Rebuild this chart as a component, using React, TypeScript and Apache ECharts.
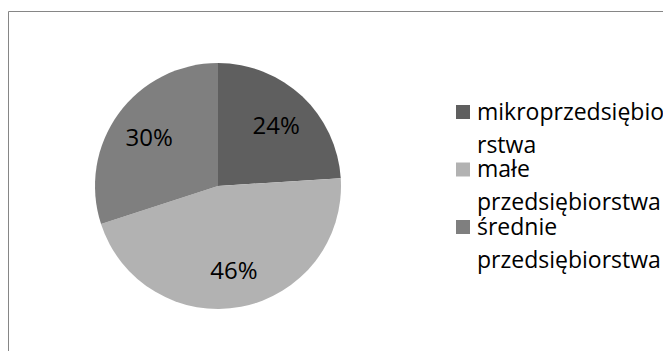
import React, { useEffect, useRef } from "react";
import * as echarts from "echarts";

const categories = ["mikroprzedsiębiorstwa", "małe przedsiębiorstwa", "średnie przedsiębiorstwa"];
const legendLabels = ["mikroprzedsiębio\nrstwa", "małe\nprzedsiębiorstwa", "średnie\nprzedsiębiorstwa"];
const shares = [24, 46, 30];
const colors = ["#5f5f5f", "#b2b2b2", "#7f7f7f"];

const FONT = "'Open Sans', 'Noto Sans', sans-serif";

export default function App() {
  const ref = useRef<HTMLDivElement>(null);
  useEffect(() => {
    if (!ref.current) return;
    const chart = echarts.init(ref.current, undefined, { renderer: "svg" });
    const data = categories.map((name, i) => ({ name, value: shares[i], itemStyle: { color: colors[i] } }));
    chart.setOption({
      animation: false,
      backgroundColor: "#ffffff",
      graphic: [
        {
          type: "rect",
          shape: { x: 8.5, y: 11.5, width: 720, height: 420 },
          style: { fill: "none", stroke: "#868686", lineWidth: 1 },
          silent: true,
        },
      ],
      legend: {
        orient: "vertical",
        left: 456,
        top: 94,
        padding: 0,
        itemWidth: 14,
        itemHeight: 66,
        itemGap: -8.5,
        icon: "path://M0,0L0,0M0,11h14v14h-14zM14,66L14,66",
        itemStyle: { borderWidth: 0 },
        selectedMode: false,
        data: categories,
        formatter: (name: string) => legendLabels[categories.indexOf(name)],
        textStyle: { fontFamily: FONT, fontSize: 23, lineHeight: 33, color: "#000000", padding: [0, 0, 0, 2] },
      },
      series: [
        {
          type: "pie",
          center: [218, 186],
          radius: 123,
          startAngle: 90,
          clockwise: true,
          label: { show: false },
          labelLine: { show: false },
          itemStyle: { borderWidth: 0 },
          emphasis: { disabled: true },
          data,
        },
        {
          type: "pie",
          center: [218, 186],
          radius: [41, 123],
          startAngle: 90,
          clockwise: true,
          silent: true,
          itemStyle: { color: "rgba(0,0,0,0)", borderWidth: 0 },
          label: {
            show: true,
            position: "inside",
            formatter: "{c}%",
            fontFamily: FONT,
            fontSize: 24,
            color: "#000000",
          },
          labelLine: { show: false },
          emphasis: { disabled: true },
          legendHoverLink: false,
          data: categories.map((name, i) => ({ name: name + " ", value: shares[i] })),
        },
      ],
    });
    return () => chart.dispose();
  }, []);
  return <div ref={ref} style={{ position: "absolute", left: 0, top: 0, width: 663, height: 351 }} />;
}
